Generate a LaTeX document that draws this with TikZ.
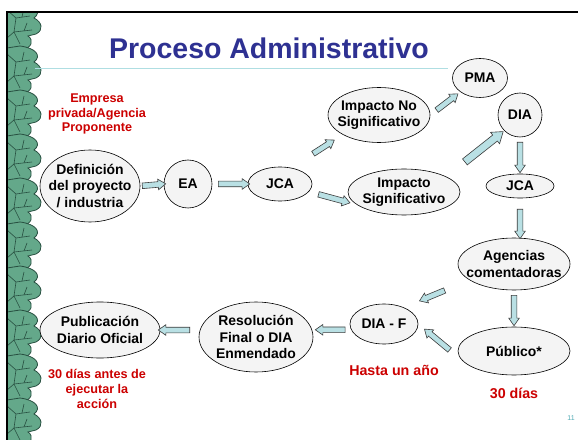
\documentclass[tikz,border=0pt]{standalone}
\usepackage{fontspec}
\setmainfont{Liberation Sans}
\usetikzlibrary{shapes.geometric,shapes.arrows,calc}

\definecolor{titleblue}{RGB}{46,49,146}
\definecolor{redtxt}{RGB}{204,0,0}
\definecolor{arrowfill}{RGB}{185,224,228}
\definecolor{arrowline}{RGB}{60,60,60}
\definecolor{bubfill}{RGB}{244,244,244}
\definecolor{leafgreen}{RGB}{100,168,138}
\definecolor{leafdark}{RGB}{40,80,65}
\definecolor{rulecyan}{RGB}{175,222,226}
\definecolor{pagenum}{RGB}{80,170,180}

% block arrow between two points, trimmed at both ends
\newcommand{\blockarr}[5][]{%
  \path let \p1=($(#2)!#4!(#3)$), \p2=($(#3)!#5!(#2)$),
    \n1={atan2(\y2-\y1,\x2-\x1)}, \n2={veclen(\x2-\x1,\y2-\y1)} in
    node[barrow, #1, rotate=\n1, minimum height=\n2] at ($(\p1)!0.5!(\p2)$) {};}

\begin{document}
\begin{tikzpicture}[x=1bp, y=-1bp,
    bub/.style={ellipse, draw, fill=bubfill, inner sep=0pt, line width=0.6bp},
    txt/.style={align=center, font=\fontsize{14}{16.5}\selectfont\bfseries},
    note/.style={align=center, text=redtxt, font=\fontsize{12.7}{15}\selectfont\bfseries},
    bignote/.style={text=redtxt, font=\fontsize{14.3}{17}\selectfont\bfseries},
    barrow/.style={single arrow, draw=arrowline, fill=arrowfill, line width=0.6bp,
      inner xsep=0pt, inner ysep=2.5bp, single arrow head extend=2.5bp,
      single arrow tip angle=70, anchor=center},
    big/.style={inner ysep=3.5bp, single arrow head extend=3.5bp},
    leaf/.style={fill=leafgreen, draw=leafdark, line width=0.8bp},
    vein/.style={draw=leafdark, line width=0.6bp}]

        % Page
        \fill[white] (0,0) rectangle (578,440);
        \useasboundingbox (0,0) rectangle (578,440);

        % Draw the leaf border
        \begin{scope}
            \clip (7,12) rectangle (60,440);
            \foreach \y in {4,48,...,444} {
                \filldraw[leaf] (7,\y) -- (20,\y-2) .. controls (36,\y) and (42,\y+8) .. (34,\y+14)
                    .. controls (42,\y+18) and (44,\y+26) .. (36,\y+30) -- (28,\y+32)
                    .. controls (34,\y+36) and (32,\y+44) .. (22,\y+46) -- (7,\y+46) -- cycle;
                \draw[vein] (7,\y+6) -- (16,\y+14) -- (30,\y+12);
                \draw[vein] (16,\y+14) -- (14,\y+28) -- (32,\y+26);
                \draw[vein] (7,\y+34) -- (14,\y+28);
                \draw[vein] (22,\y+13) -- (24,\y+4);
                \draw[vein] (14,\y+28) -- (20,\y+40);
                \draw[vein] (24,\y+27) -- (27,\y+19);
            }
        \end{scope}

        % Draw the frame
        \draw[line width=2bp] (7,440) -- (7,12) -- (578,12);

        % Title and rule
        \node[text=titleblue, font=\fontsize{28.6}{32}\selectfont\bfseries] (title) at (269,48) {Proceso Administrativo};
        \draw[rulecyan, line width=0.8bp] (35,68) -- (448,68);

        % Draw the bubbles
        \node[bub, minimum width=100bp, minimum height=72bp, label={[txt]center:Definición\\del proyecto\\/ industria}] (def) at (90,186) {};
        \node[bub, circle, minimum size=48bp, label={[txt]center:EA}] (ea) at (188,184) {};
        \node[bub, minimum width=64bp, minimum height=34bp, label={[txt]center:JCA}] (jcaL) at (280,184) {};
        \node[bub, minimum width=102bp, minimum height=55bp, label={[txt]center:Impacto No\\Significativo}] (imno) at (379,115) {};
        \node[bub, minimum width=112bp, minimum height=46bp, label={[txt]center:Impacto\\Significativo}] (imsig) at (404,192) {};
        \node[bub, minimum width=55bp, minimum height=39bp, label={[txt]center:PMA}] (pma) at (480,78) {};
        \node[bub, circle, minimum size=44bp, label={[txt]center:DIA}] (dia) at (520,115) {};
        \node[bub, minimum width=68bp, minimum height=24bp, label={[txt]center:JCA}] (jcaR) at (520,186) {};
        \node[bub, minimum width=112bp, minimum height=52bp, label={[txt]center:Agencias\\comentadoras}] (agen) at (514,264) {};
        \node[bub, minimum width=112bp, minimum height=48bp, label={[txt]center:Público*}] (pub) at (514,351) {};
        \node[bub, minimum width=68bp, minimum height=40bp, label={[txt]center:DIA - F}] (diaf) at (384,324) {};
        \node[bub, minimum width=114bp, minimum height=70bp, label={[txt]center:Resolución\\Final o DIA\\Enmendado}] (resol) at (256,337) {};
        \node[bub, minimum width=120bp, minimum height=56bp, label={[txt]center:Publicación\\Diario Oficial}] (publ) at (100,330) {};

        % Red notes
        \node[note] (empresa) at (97,114) {Empresa\\privada/Agencia\\Proponente};
        \node[note] (antes) at (97,389) {30 días antes de\\ejecutar la\\acción};
        \node[bignote] (hasta) at (394,370) {Hasta un año};
        \node[bignote] (dias) at (514,393) {30 días};
        \node[text=pagenum, font=\fontsize{7}{8}\selectfont] (num) at (571,418) {11};

        % Draw the arrows
        \coordinate (agenTop) at (agen.north -| jcaR.south);
        \coordinate (resolR) at (resol.east |- diaf.190);
        \coordinate (resolL) at (resol.west |- publ.east);
        \blockarr{def.east}{ea.west}{0bp}{0bp}
        \blockarr{ea.east}{jcaL.west}{4bp}{0bp}
        \blockarr{jcaL.55}{imno.south west}{24bp}{12bp}
        \blockarr{jcaL.-15}{imsig.195}{8bp}{9bp}
        \blockarr{imno.east}{pma.south west}{6bp}{5bp}
        \blockarr[big]{imsig.20}{dia.225}{21bp}{4bp}
        \blockarr{dia.south}{jcaR.north}{3bp}{3bp}
        \blockarr{jcaR.south}{agenTop}{9bp}{1bp}
        \blockarr{agen.south}{pub.north}{3bp}{3bp}
        \blockarr{agen.200}{diaf.40}{25bp}{19bp}
        \blockarr{pub.190}{diaf.east}{14bp}{10bp}
        \blockarr{diaf.190}{resolR}{4bp}{4bp}
        \blockarr{resolL}{publ.east}{7bp}{0bp}

    \end{tikzpicture}
\end{document}
